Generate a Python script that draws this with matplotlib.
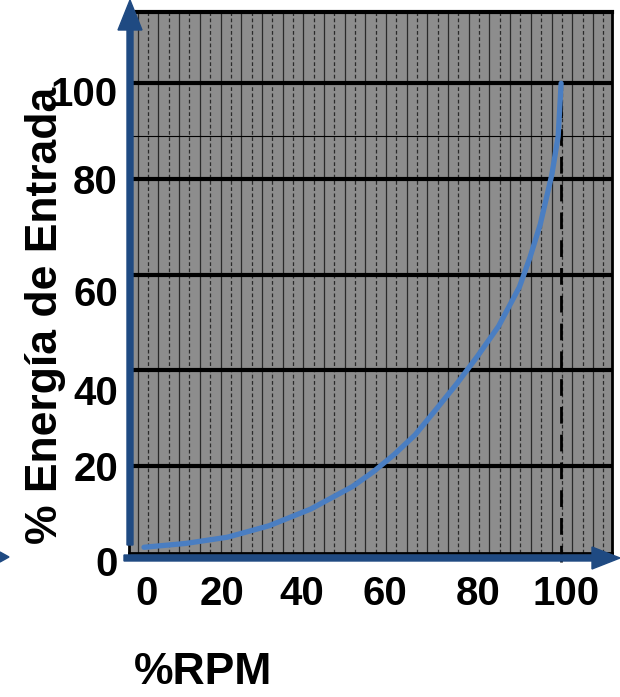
import numpy as np
import matplotlib
matplotlib.use('Agg')
from matplotlib import pyplot as plt
from matplotlib.patches import FancyArrow, Polygon
from matplotlib.transforms import blended_transform_factory

# curve
rpm = [0, 10, 20, 30, 40, 50, 55, 60, 65, 70, 75, 80, 85, 90, 92.5, 95, 97.8, 99.3, 100]
energia = [3, 3.8, 5.1, 7.5, 11, 15.7, 18.8, 22.4, 26.5, 31.8, 37.2, 43, 49.2, 57.4, 63.5, 70.5, 81, 89, 100]

xticks = [0, 20, 40, 60, 80, 100]
yticks = [0, 20, 40, 60, 80, 100]
xlabel = '%RPM'
ylabel = '% Energía de Entrada'

def main():
    plt.rcParams['font.family'] = ['Liberation Sans', 'DejaVu Sans']
    W, H = 620, 697
    fig = plt.figure(figsize=(6.2, 6.97), dpi=100)
    ax = fig.add_axes([129 / W, 1 - 553 / H, (612 - 129) / W, (553 - 12) / H])
    ax.set_facecolor('#8d8d8d')
    ax.set_xlim(-3.6, 112.2)
    ax.set_ylim(1.8, 114.9)

    # vertical texture lines, alternating solid / dashed
    for i, xv in enumerate(np.arange(-1.5, 112, 2.48)):
        ls = '-' if i % 2 == 0 else (0, (3, 2))
        ax.axvline(xv, color='#2a2a2a', lw=0.9, ls=ls, zorder=1)

    for yv in yticks[1:]:
        ax.axhline(yv, color='black', lw=3, zorder=2)
    ax.axhline(89, color='black', lw=0.8, zorder=2)

    ax.plot([100, 100], [0, 100], color='black', lw=2, ls=(0, (6, 4)), zorder=3, clip_on=False)
    ax.plot(rpm, energia, color='#4a7ec2', lw=3.8, zorder=4, solid_capstyle='round')

    # tick labels sit a little off the grid in the original, nudge them
    ax.set_xticks([])
    ax.set_yticks([])
    ynudge = [-0.7, 19.2, 35.0, 55.7, 79.2, 97.6]
    xnudge = [0.5, 18.7, 37.9, 57.8, 80.1, 101.2]
    ty = blended_transform_factory(fig.transFigure, ax.transData)
    tx = blended_transform_factory(ax.transData, fig.transFigure)
    for v, p in zip(yticks, ynudge):
        ax.text(118 / W, p, str(v), transform=ty, fontsize=29, fontweight='bold',
                ha='right', va='center', clip_on=False)
    for v, p in zip(xticks, xnudge):
        ax.text(p, 1 - 594 / H, str(v), transform=tx, fontsize=29, fontweight='bold',
                ha='center', va='center', clip_on=False)

    for s in ax.spines.values():
        s.set_color('black')
        s.set_linewidth(2)
    ax.spines['top'].set_linewidth(3)

    # blue axis arrows
    blue = '#1f4a82'
    fig.patches.append(FancyArrow(130, H - 545, 0, 545, width=6, head_width=24,
                                  head_length=30, length_includes_head=True,
                                  color=blue, transform=None, figure=fig))
    fig.patches.append(FancyArrow(124, H - 558, 496, 0, width=6, head_width=22,
                                  head_length=28, length_includes_head=True,
                                  color=blue, transform=None, figure=fig))
    fig.patches.append(Polygon([[0, H - 552], [9, H - 557], [0, H - 562]], closed=True,
                               color=blue, transform=None, figure=fig))

    fig.text(46 / W, 1 - 315 / H, ylabel, rotation=90, fontsize=32, fontweight='bold',
             ha='center', va='center')
    fig.text(134 / W, 1 - 673 / H, xlabel, fontsize=32, fontweight='bold',
             ha='left', va='center')

    fig.savefig('out.png', dpi=100)


if __name__ == '__main__':
    main()
